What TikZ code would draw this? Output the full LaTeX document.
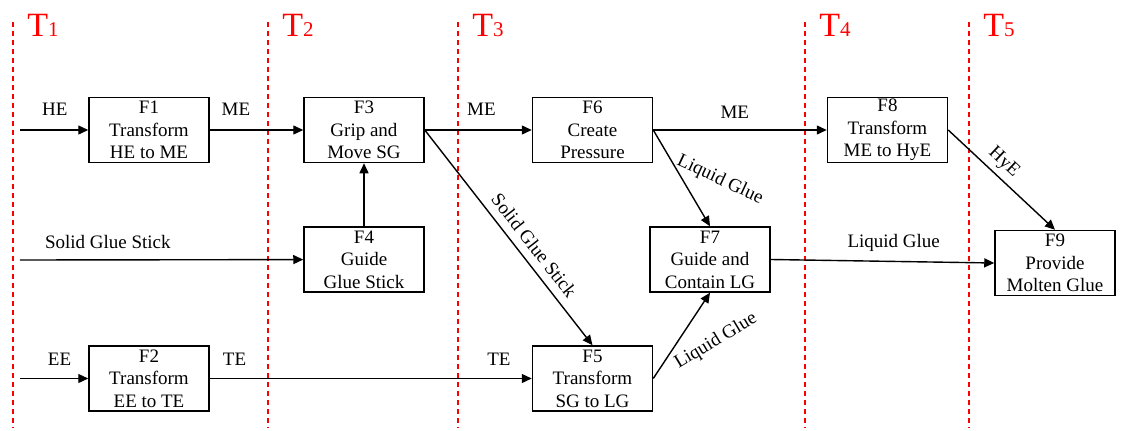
\documentclass[tikz,border=0pt]{standalone}
\usepackage{fontspec}
\setmainfont{Liberation Serif}
\usetikzlibrary{arrows.meta}

\begin{document}
\begin{tikzpicture}[x=1pt,y=-1pt,
    func/.style={draw,line width=1.5pt,minimum width=120pt,minimum height=65pt,
        align=center,inner sep=0pt,font=\fontsize{19}{22.5}\selectfont},
    flow/.style={line width=1.4pt,-{Triangle[length=10pt,width=9pt]}},
    lbl/.style={font=\fontsize{19}{22.5}\selectfont,inner sep=2pt},
    tline/.style={red,line width=1.3pt,dash pattern=on 5pt off 4pt}]
    \useasboundingbox (0,0) rectangle (1122,431);
    % time stages
    \foreach \x/\n in {13/1,268/2,458/3,805/4,969/5} {
        \draw[tline] (\x,22) -- (\x,428);
        \node[red,inner sep=0pt] (T\n) at (\x+30,25)
            {\fontsize{34}{34}\selectfont T{\fontsize{21}{21}\selectfont\n}};
    }
    % functions
    \node[func] (F1) at (149,130) {F1\\Transform\\HE to ME};
    \node[func] (F3) at (364,130) {F3\\Grip and\\Move SG};
    \node[func] (F4) at (364,259.5) {F4\\Guide\\Glue Stick};
    \node[func] (F2) at (149,378.5) {F2\\Transform\\EE to TE};
    \node[func] (F5) at (592.5,378.5) {F5\\Transform\\SG to LG};
    \node[func] (F6) at (592.5,130) {F6\\Create\\Pressure};
    \node[func] (F7) at (710,259.5) {F7\\Guide and\\Contain LG};
    \node[func] (F8) at (887.5,130) {F8\\Transform\\ME to HyE};
    \node[func] (F9) at (1055,263) {F9\\Provide\\Molten Glue};
    \coordinate (inHE) at (20,130); % human energy in
    \coordinate (inSGS) at (20,260); % glue stick in
    \coordinate (inEE) at (20,378.5); % electrical energy in
    % flows
    \draw[flow] (inHE) -- (F1) node[lbl,pos=0.51,above=12pt] {HE};
    \draw[flow] (F1) -- (F3) node[lbl,pos=0.28,above=12pt] {ME};
    \draw[flow] (F3) -- (F6) node[lbl,pos=0.53,above=12pt] {ME};
    \draw[flow] (F6) -- (F8) node[lbl,pos=0.47,above=8.5pt] {ME};
    \draw[flow] (inSGS) -- (F4) node[lbl,pos=0.31,above=8pt] {Solid Glue Stick};
    \draw[flow] (F4) -- (F3);
    \draw[flow] (inEE) -- (F2) node[lbl,pos=0.58,above=10pt] {EE};
    \draw[flow] (F2) -- (F5) node[lbl,pos=0.077,above=10pt] {TE}
        node[lbl,pos=0.898,above=10pt] {TE};
    \draw[flow] (F3.east) -- (F5.north) node[lbl,pos=0.58,sloped,above=6pt] {Solid Glue Stick};
    \draw[flow] (F6.east) -- (F7.north);
    \draw[flow] (F5.east) -- (F7.south);
    \draw[flow] (F7.east) -- (F9.west) node[lbl,pos=0.55,above=7.5pt] {Liquid Glue};
    \draw[flow] (F8.east) -- (F9.north) node[lbl,pos=0.43,sloped,above=3pt] {HyE};
    \node[lbl,rotate=-25] (lgTop) at (720,180) {Liquid Glue};
    \node[lbl,rotate=31] (lgBot) at (716,341) {Liquid Glue};
\end{tikzpicture}
\end{document}
